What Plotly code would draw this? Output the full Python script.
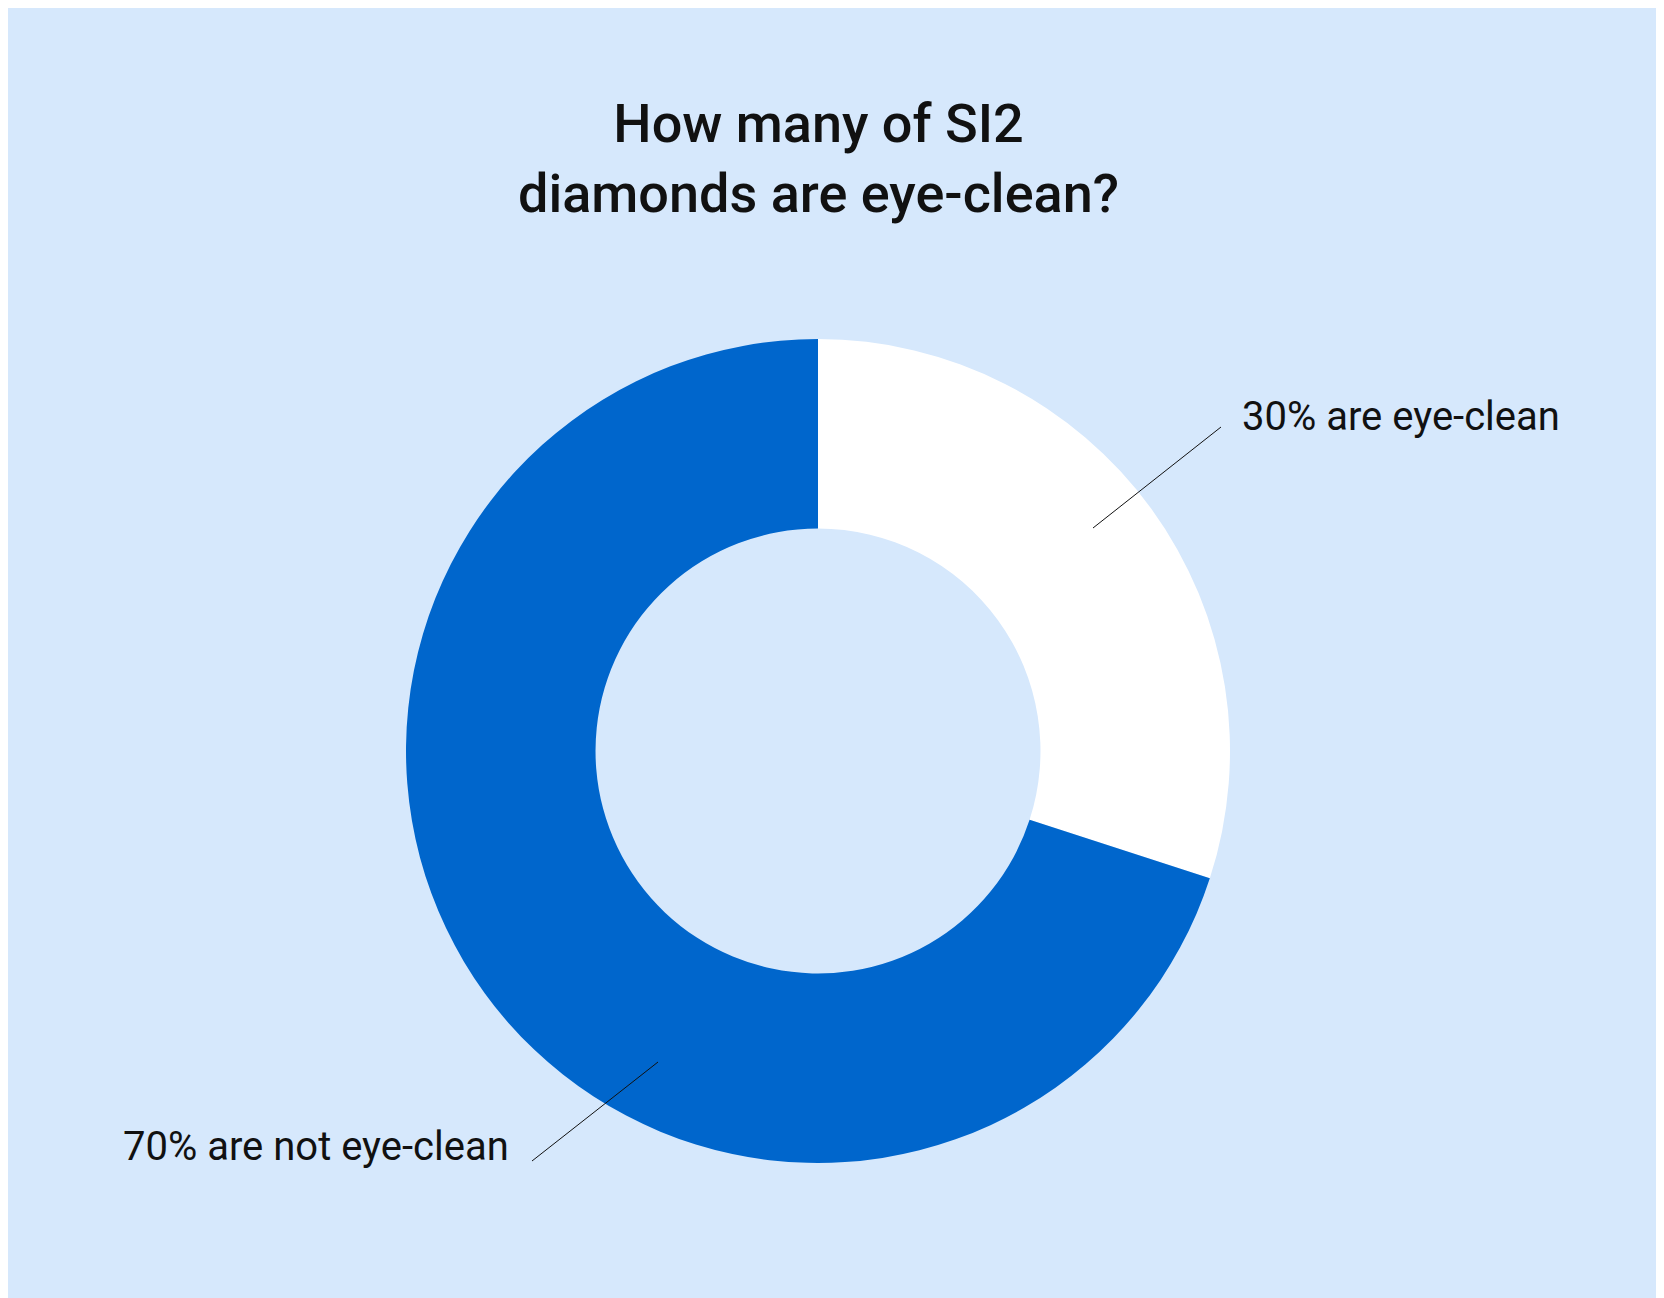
import plotly.graph_objects as go

W, H = 1664, 1298

labels = ["are eye-clean", "are not eye-clean"]
values = [30, 70]
colors = ["#ffffff", "#0066cc"]
title_text = "How many of SI2<br>diamonds are eye-clean?"

def px(x, y):
    return x / W, 1 - y / H

fig = go.Figure(go.Pie(
    labels=labels, values=values, hole=0.54, sort=False, direction="clockwise",
    rotation=0, marker=dict(colors=colors, line=dict(width=0)),
    textinfo="none", hoverinfo="label+percent", showlegend=False,
    domain=dict(x=[398 / W, 1222 / W], y=[1 - 1155 / H, 1 - 331 / H]),
))

# leader lines
for (x0, y0, x1, y1) in [(1085, 520, 1213, 419), (524, 1153, 650, 1054)]:
    a, b = px(x0, y0)
    c, d = px(x1, y1)
    fig.add_shape(type="line", xref="paper", yref="paper", x0=a, y0=b, x1=c, y1=d,
                  line=dict(color="#111111", width=1))

lab_font = dict(family="Roboto", size=40, color="#111111")
x, y = px(1232, 408)
fig.add_annotation(xref="paper", yref="paper", x=x, y=y, xanchor="left", yanchor="middle",
                   text=f"{values[0]}% {labels[0]}", showarrow=False, font=lab_font)
x, y = px(503, 1138)
fig.add_annotation(xref="paper", yref="paper", x=x, y=y, xanchor="right", yanchor="middle",
                   text=f"{values[1]}% {labels[1]}", showarrow=False, font=lab_font)

x, y = px(810, 150)
fig.add_annotation(xref="paper", yref="paper", x=x, y=y, xanchor="center", yanchor="middle",
                   text=title_text, showarrow=False,
                   font=dict(family="Roboto", size=54, color="#111111", weight=500))

fig.update_layout(width=W, height=H, margin=dict(l=0, r=0, t=0, b=0),
                  paper_bgcolor="#d6e8fc", plot_bgcolor="#d6e8fc")
fig.write_html("out.html")
